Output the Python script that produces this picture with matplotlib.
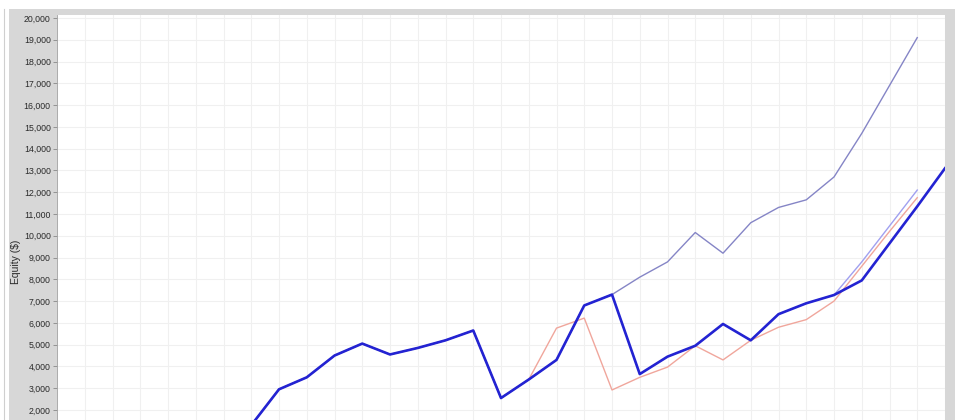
import matplotlib
matplotlib.use('Agg')
import matplotlib.pyplot as plt
from matplotlib.patches import Rectangle
from matplotlib.lines import Line2D
from matplotlib.ticker import FuncFormatter, MultipleLocator

# trade index (x) and equity values
idx_main = list(range(7, 33))
equity_main = [1300, 2950, 3500, 4500, 5050, 4550, 4850, 5200, 5650, 2550,
               3400, 4300, 6800, 7300, 3650, 4450, 4950, 5950, 5200, 6400,
               6900, 7280, 7950, 9650, 11350, 13100]

idx_other = list(range(7, 32))
equity_upper = [1300, 2950, 3500, 4500, 5050, 4550, 4850, 5200, 5650, 2550,
                3400, 4300, 6800, 7300, 8100, 8800, 10150, 9200, 10600, 11300,
                11650, 12700, 14700, 16900, 19100]
equity_pink = [1300, 2950, 3500, 4500, 5050, 4550, 4850, 5200, 5650, 2550,
               3400, 5760, 6220, 2920, 3500, 3970, 4950, 4300, 5200, 5800,
               6150, 7000, 8600, 10200, 11750]
equity_light = [1300, 2950, 3500, 4500, 5050, 4550, 4850, 5200, 5650, 2550,
                3400, 4300, 6800, 7300, 3650, 4450, 4950, 5950, 5200, 6400,
                6900, 7280, 8800, 10450, 12100]

W, H = 955, 420
fig = plt.figure(figsize=(W / 100, H / 100), dpi=100, facecolor='white')

# grey frame around the plot
fig.patches.append(Rectangle((9 / W, 0), 1 - 9 / W, (H - 9) / H,
                             transform=fig.transFigure, facecolor='#d7d7d7',
                             edgecolor='none', zorder=-10))
fig.lines.append(Line2D([3.5 / W, 3.5 / W], [0, (H - 9) / H],
                        transform=fig.transFigure, color='#cfcfcf', lw=0.8,
                        zorder=-10))

ax = fig.add_axes([57 / W, 0, (945 - 57) / W, (H - 15) / H])
ax.set_zorder(1)
ax.set_facecolor('white')

ax.plot(idx_other, equity_upper, color='#8585c6', lw=1.0, zorder=2)
ax.plot(idx_other, equity_light, color='#a0a0f0', lw=1.0, zorder=2)
ax.plot(idx_other, equity_pink, color='#f0a69c', lw=1.0, zorder=3)
ax.plot(idx_main, equity_main, color='#2323d2', lw=1.9, zorder=4)

ax.set_xlim(0, 32)
ax.set_ylim(1541, 20138)
ax.xaxis.set_major_locator(MultipleLocator(1))
ax.yaxis.set_major_locator(MultipleLocator(1000))
ax.yaxis.set_major_formatter(FuncFormatter(lambda v, p: f'{int(v):,}'))
ax.grid(True, color='#f0f0f0', lw=0.8)
ax.set_axisbelow(True)

ax.tick_params(axis='x', length=0, labelbottom=False)
ax.tick_params(axis='y', length=3, width=0.6, color='#888888', pad=1.5,
               labelsize=6.3, labelcolor='#2a2a2a')
for lab in ax.get_yticklabels():
    lab.set_family(['Liberation Sans Narrow', 'Liberation Sans', 'DejaVu Sans'])

for s in ['top', 'right', 'bottom']:
    ax.spines[s].set_visible(False)
ax.spines['left'].set_color('#a0a0a0')
ax.spines['left'].set_linewidth(0.6)

ax.set_ylabel('Equity ($)', fontsize=7.5, color='#2a2a2a',
              family=['Liberation Sans', 'DejaVu Sans'])
ax.yaxis.set_label_coords(-0.041, 0.39)

fig.savefig('out.png', dpi=100, facecolor='white')
